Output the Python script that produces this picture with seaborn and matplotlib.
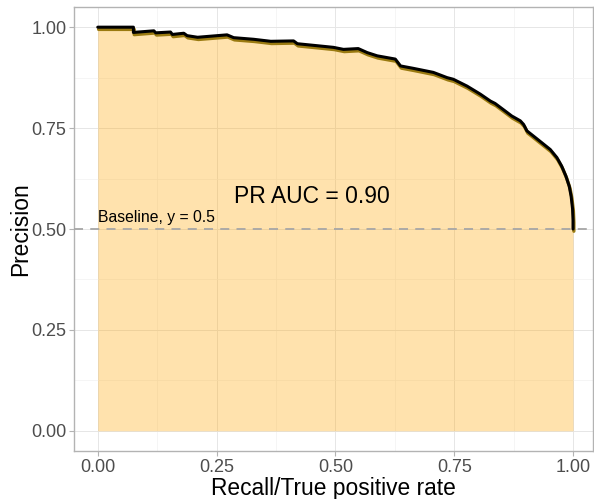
import matplotlib
matplotlib.use("Agg")
import matplotlib.pyplot as plt
import matplotlib.transforms as mtransforms
import seaborn as sns
import pandas as pd
import numpy as np

recall = [0.0, 0.075, 0.075, 0.118, 0.122, 0.153, 0.157, 0.181, 0.188, 0.21,
          0.272, 0.286, 0.328, 0.364, 0.412, 0.42, 0.454, 0.496, 0.517, 0.548,
          0.567, 0.588, 0.626, 0.637, 0.664, 0.706, 0.735, 0.748, 0.777, 0.805,
          0.826, 0.836, 0.853, 0.871, 0.889, 0.896, 0.903, 0.917, 0.934, 0.952,
          0.966, 0.976, 0.985, 0.992, 0.996, 0.999, 1.0, 1.0]
precision = [1.0, 1.0, 0.987, 0.991, 0.986, 0.988, 0.982, 0.985, 0.979, 0.975,
             0.981, 0.974, 0.970, 0.965, 0.966, 0.959, 0.955, 0.950, 0.945, 0.947,
             0.937, 0.929, 0.921, 0.904, 0.898, 0.888, 0.875, 0.871, 0.854, 0.834,
             0.817, 0.811, 0.796, 0.780, 0.768, 0.759, 0.743, 0.730, 0.714, 0.697,
             0.677, 0.656, 0.631, 0.606, 0.581, 0.550, 0.522, 0.50]

x_ticks = [0.0, 0.25, 0.5, 0.75, 1.0]
y_ticks = [0.0, 0.25, 0.5, 0.75, 1.0]
tick_labels = ["0.00", "0.25", "0.50", "0.75", "1.00"]
baseline = 0.5
auc_label = "PR AUC = 0.90"
baseline_label = "Baseline, y = 0.5"

df = pd.DataFrame({"recall": recall, "precision": precision})

sns.set_theme(style="white")
plt.rcParams["font.family"] = ["Liberation Sans", "DejaVu Sans"]

fig = plt.figure(figsize=(5.94, 4.99), dpi=100)
ax = fig.add_axes([74/594, (499-451)/499, (593-74)/594, (451-7)/499])

ax.fill_between(df["recall"], 0, df["precision"], color="#FFA500", alpha=0.32,
                linewidth=0, zorder=2)
shadow = mtransforms.offset_copy(ax.transData, fig=fig, x=0.6, y=-1.6, units="points")
ax.plot(df["recall"], df["precision"], color="#9A7A10", lw=2.4, transform=shadow,
        zorder=3, solid_joinstyle="round")
sns.lineplot(data=df, x="recall", y="precision", sort=False, estimator=None,
             color="black", lw=2.2, ax=ax, zorder=4)

ax.axhline(baseline, color="#A6A6A6", lw=1.3, ls=(0, (5, 4)), zorder=5)
ax.text(0.0, baseline + 0.01, baseline_label, fontsize=11.3, ha="left", va="bottom",
        color="black", zorder=6)
ax.text(0.45, 0.58, auc_label, fontsize=16.5, ha="center", va="center", color="black",
        zorder=6)

ax.set_xlim(-0.05, 1.042)
ax.set_ylim(-0.05, 1.05)
ax.set_xticks(x_ticks)
ax.set_xticklabels(tick_labels)
ax.set_yticks(y_ticks)
ax.set_yticklabels(tick_labels)
ax.set_xticks([0.125, 0.375, 0.625, 0.875], minor=True)
ax.set_yticks([0.125, 0.375, 0.625, 0.875], minor=True)
ax.grid(True, which="major", color="#E6E6E6", lw=0.7)
ax.grid(True, which="minor", color="#F2F2F2", lw=0.5)
ax.set_axisbelow(True)
ax.tick_params(which="major", length=3.5, width=0.8, color="#B3B3B3",
               labelsize=13, labelcolor="#4D4D4D", pad=2, bottom=True, left=True)
ax.tick_params(which="minor", length=0)
for s in ax.spines.values():
    s.set_color("#B3B3B3")
    s.set_linewidth(1.0)
ax.set_xlabel("Recall/True positive rate", fontsize=16.4, color="black", labelpad=1)
ax.set_ylabel("Precision", fontsize=16.4, color="black", labelpad=-0.5)

fig.savefig("out.png", dpi=100)
